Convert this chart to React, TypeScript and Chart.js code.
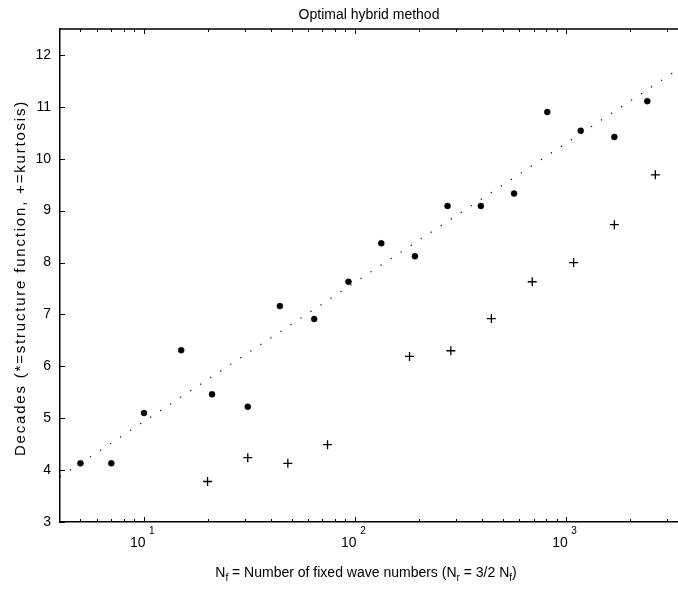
import React, { useEffect, useRef } from 'react';
import { Chart, registerables } from 'chart.js';

Chart.register(...registerables);

// Structure function results (dots)
const structX = [5, 7, 10, 15, 21, 31, 44, 64, 93, 133, 192, 274, 394, 566, 813, 1171, 1690, 2420];
const structY = [4.13, 4.13, 5.1, 6.31, 5.46, 5.22, 7.16, 6.91, 7.63, 8.37, 8.12, 9.09, 9.09, 9.33, 10.9, 10.54, 10.42, 11.11];

// Kurtosis results (plus signs)
const kurtX = [20, 31, 48, 74, 181, 284, 442, 690, 1084, 1690, 2642];
const kurtY = [3.78, 4.24, 4.13, 4.49, 6.19, 6.3, 6.92, 7.63, 8.0, 8.73, 9.69];

// Dotted fit line end points
const fitX = [4, 3383];
const fitY = [3.87, 11.72];

const yTicks = [3, 4, 5, 6, 7, 8, 9, 10, 11, 12];
const xMajorTicks = [10, 100, 1000];
const xMajorExp = ['1', '2', '3'];
const xMinorTicks = [5, 6, 7, 8, 9, 20, 30, 40, 50, 60, 70, 80, 90, 200, 300, 400, 500, 600, 700, 800, 900, 2000, 3000];

const X_MIN = 4;
const X_MAX = 3383;
const Y_MIN = 3;
const Y_MAX = 12.5;

const TITLE = 'Optimal hybrid method';
const Y_LABEL = 'Decades (*=structure function, +=kurtosis)';
const X_LABEL_PARTS: { t: string; sub: boolean }[] = [
  { t: 'N', sub: false },
  { t: 'f', sub: true },
  { t: ' = Number of fixed wave numbers (N', sub: false },
  { t: 'r', sub: true },
  { t: ' = 3/2 N', sub: false },
  { t: 'f', sub: true },
  { t: ')', sub: false },
];

const FONT = "'Liberation Sans', Arial, Helvetica, sans-serif";
const FS = 14;
const FS_SMALL = 10;

const decorPlugin = {
  id: 'decor',
  afterDraw(chart: any) {
    const ctx: CanvasRenderingContext2D = chart.ctx;
    const { left, right, top, bottom } = chart.chartArea;
    const xs = chart.scales.x;
    const ys = chart.scales.y;
    ctx.save();

    // top frame line
    ctx.strokeStyle = '#000';
    ctx.lineWidth = 1.5;
    ctx.beginPath();
    ctx.moveTo(left, top);
    ctx.lineTo(right, top);
    ctx.stroke();

    // inward tick marks
    ctx.lineWidth = 1;
    ctx.beginPath();
    yTicks.forEach((v) => {
      const p = Math.round(ys.getPixelForValue(v)) + 0.5;
      ctx.moveTo(left, p);
      ctx.lineTo(left + 5, p);
    });
    const drawX = (v: number, len: number) => {
      const p = Math.round(xs.getPixelForValue(v)) + 0.5;
      ctx.moveTo(p, bottom);
      ctx.lineTo(p, bottom - len);
      ctx.moveTo(p, top);
      ctx.lineTo(p, top + len);
    };
    xMajorTicks.forEach((v) => drawX(v, 5));
    xMinorTicks.forEach((v) => drawX(v, 3));
    ctx.stroke();

    // x tick labels 10^n
    ctx.fillStyle = '#000';
    ctx.textBaseline = 'alphabetic';
    xMajorTicks.forEach((v, i) => {
      const p = xs.getPixelForValue(v);
      ctx.font = `${FS}px ${FONT}`;
      ctx.textAlign = 'right';
      ctx.fillText('10', p + 1.5, 547);
      ctx.font = `${FS_SMALL}px ${FONT}`;
      ctx.textAlign = 'left';
      ctx.fillText(xMajorExp[i], p + 5, 534);
    });

    // title
    const cx = (left + right) / 2;
    ctx.font = `${FS}px ${FONT}`;
    ctx.textAlign = 'center';
    ctx.fillText(TITLE, cx, 18.5);

    // x label with subscripts
    let total = 0;
    X_LABEL_PARTS.forEach((part) => {
      ctx.font = `${part.sub ? FS_SMALL : FS}px ${FONT}`;
      total += ctx.measureText(part.t).width;
    });
    let x = cx - 3 - total / 2;
    ctx.textAlign = 'left';
    X_LABEL_PARTS.forEach((part) => {
      ctx.font = `${part.sub ? FS_SMALL : FS}px ${FONT}`;
      ctx.fillText(part.t, x, part.sub ? 581 : 577);
      x += ctx.measureText(part.t).width;
    });

    // y label rotated
    ctx.save();
    ctx.translate(25, 278);
    ctx.rotate(-Math.PI / 2);
    ctx.font = `15px ${FONT}`;
    (ctx as any).letterSpacing = '1.8px';
    ctx.textAlign = 'left';
    const w = ctx.measureText(Y_LABEL).width;
    ctx.fillText(Y_LABEL, -w / 2, 0);
    ctx.restore();

    ctx.restore();
  },
};

export default function App() {
  const canvasRef = useRef<HTMLCanvasElement | null>(null);

  useEffect(() => {
    if (!canvasRef.current) return;
    const chart = new Chart(canvasRef.current, {
      type: 'scatter',
      data: {
        datasets: [
          {
            label: 'structure function',
            data: structX.map((x, i) => ({ x, y: structY[i] })),
            pointStyle: 'circle',
            pointRadius: 3,
            pointBackgroundColor: '#000',
            pointBorderColor: '#000',
            pointBorderWidth: 0.5,
            showLine: false,
          },
          {
            label: 'kurtosis',
            data: kurtX.map((x, i) => ({ x, y: kurtY[i] })),
            pointStyle: 'cross',
            pointRadius: 4.5,
            pointBorderColor: '#000',
            pointBorderWidth: 1.3,
            showLine: false,
          },
          {
            label: 'fit',
            data: fitX.map((x, i) => ({ x, y: fitY[i] })),
            showLine: true,
            pointRadius: 0,
            borderColor: '#000',
            borderWidth: 1.2,
            borderDash: [1.2, 10.8],
            fill: false,
          },
        ],
      },
      options: {
        animation: false,
        responsive: true,
        maintainAspectRatio: false,
        layout: { autoPadding: false, padding: { left: 0, top: 29, right: 0, bottom: 67 } },
        plugins: {
          legend: { display: false },
          tooltip: { enabled: false },
          title: { display: false },
        },
        scales: {
          x: {
            type: 'logarithmic',
            min: X_MIN,
            max: X_MAX,
            grid: { display: false, drawTicks: false },
            border: { display: true, color: '#000', width: 1.5 },
            ticks: { display: false },
            afterBuildTicks: (scale: any) => {
              scale.ticks = xMajorTicks.map((v) => ({ value: v }));
            },
          },
          y: {
            type: 'linear',
            min: Y_MIN,
            max: Y_MAX,
            grid: { display: false, drawTicks: false },
            border: { display: true, color: '#000', width: 1.5 },
            afterBuildTicks: (scale: any) => {
              scale.ticks = yTicks.map((v) => ({ value: v }));
            },
            afterFit: (scale: any) => {
              scale.width = 60;
            },
            ticks: {
              color: '#000',
              padding: 9,
              font: { family: FONT, size: FS },
              callback: (v: any) => String(v),
            },
          },
        },
      },
      plugins: [decorPlugin],
    } as any);
    return () => chart.destroy();
  }, []);

  return (
    <div style={{ position: 'absolute', left: 0, top: 0, width: 678, height: 589, background: '#fff' }}>
      <canvas ref={canvasRef} />
    </div>
  );
}
